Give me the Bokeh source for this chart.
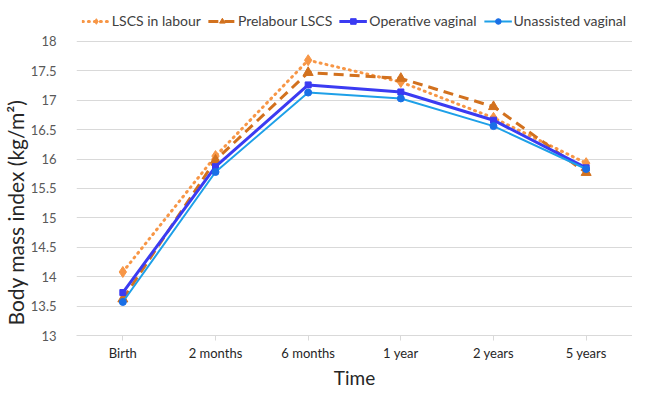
from bokeh.plotting import figure
from bokeh.models import (FactorRange, Range1d, FixedTicker, NumeralTickFormatter,
                          Legend, LegendItem, ColumnDataSource, Title)
from bokeh.embed import file_html
from bokeh.resources import INLINE

times = ["Birth", "2 months", "6 months", "1 year", "2 years", "5 years"]
lscs_labour = [14.08, 16.05, 17.68, 17.31, 16.70, 15.93]
prelabour_lscs = [13.62, 15.98, 17.47, 17.37, 16.89, 15.77]
operative_vaginal = [13.73, 15.87, 17.26, 17.14, 16.66, 15.85]
unassisted_vaginal = [13.57, 15.78, 17.13, 17.03, 16.56, 15.83]
y_ticks = [13, 13.5, 14, 14.5, 15, 15.5, 16, 16.5, 17, 17.5, 18]
x_title = "Time"
y_title = "Body mass index (kg/m²)"

FONT = "Lato"
W, H = 632, 388

p = figure(width=W, height=H, x_range=FactorRange(*times), y_range=Range1d(13, 18.61),
           output_backend="svg", toolbar_location=None,
           min_border_left=70, min_border_right=0, min_border_top=5, min_border_bottom=10)
p.outline_line_color = None
p.background_fill_color = "white"
p.border_fill_color = "white"

series = [
    ("LSCS in labour", lscs_labour, "#F79646", "1 5", 3, "diamond", 11, "#F79646"),
    ("Prelabour LSCS", prelabour_lscs, "#D2711E", "10 6", 3, "triangle", 10, "#D2711E"),
    ("Operative vaginal", operative_vaginal, "#3B3BF2", "solid", 3, "square", 6, "#3B3BF2"),
    ("Unassisted vaginal", unassisted_vaginal, "#1EA0E8", "solid", 2, "circle", 7, "#1A6FE6"),
]

items = []
for name, vals, color, dash, lw, marker, size, mcolor in series:
    src = ColumnDataSource(dict(x=times, y=vals))
    lr = p.line("x", "y", source=src, line_color=color, line_width=lw, line_dash=dash,
                line_cap="round" if dash == "1 5" else "butt")
    mr = p.scatter("x", "y", source=src, marker=marker, size=size,
                   fill_color=mcolor, line_color=mcolor)
    items.append(LegendItem(label=name, renderers=[lr, mr]))

legend = Legend(items=items, orientation="horizontal", location="top_center",
                label_text_font=FONT, label_text_font_size="14px", label_text_color="#404040",
                glyph_width=28, glyph_height=14, spacing=7, label_standoff=2,
                padding=0, margin=7, border_line_color=None, background_fill_alpha=0)
p.add_layout(legend, "center")

p.xgrid.grid_line_color = None
p.ygrid.grid_line_color = "#D9D9D9"
p.ygrid.grid_line_width = 1

p.yaxis.ticker = FixedTicker(ticks=y_ticks)
p.yaxis.formatter = NumeralTickFormatter(format="0.[0]")
p.yaxis.axis_line_color = None
p.yaxis.major_tick_line_color = None
p.yaxis.minor_tick_line_color = None
p.yaxis.major_label_standoff = 14

p.xaxis.axis_line_color = "#D9D9D9"
p.xaxis.major_tick_line_color = "#D9D9D9"
p.xaxis.major_tick_out = 5
p.xaxis.major_tick_in = 0
p.xaxis.major_label_standoff = 4

for ax in (p.xaxis[0], p.yaxis[0]):
    ax.major_label_text_font = FONT
    ax.major_label_text_font_size = "13px"
    ax.major_label_text_color = "#595959"
p.xaxis.major_label_text_color = "#262626"

p.add_layout(Title(text=x_title, align="center", offset=-28, standoff=0,
                   text_font=FONT, text_font_size="19px", text_font_style="normal",
                   text_color="#262626"), "below")
p.add_layout(Title(text=y_title, align="left", offset=10, standoff=0,
                   text_font=FONT, text_font_size="21px", text_font_style="normal",
                   text_color="#262626"), "left")

open("out.html", "w").write(file_html(p, INLINE))
